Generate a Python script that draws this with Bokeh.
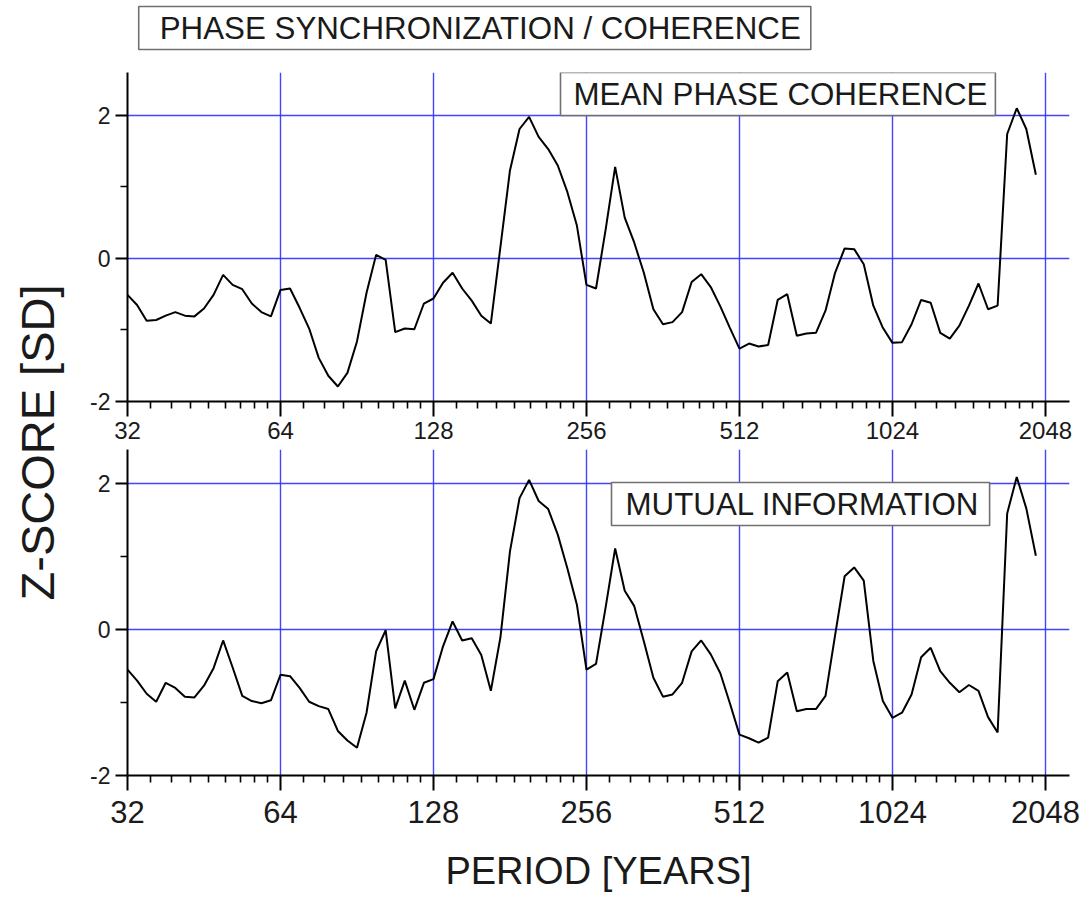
import math

from bokeh.embed import file_html
from bokeh.layouts import column, row
from bokeh.models import BasicTickFormatter, FixedTicker, Label, NumeralTickFormatter, Range1d
from bokeh.plotting import figure
from bokeh.resources import INLINE

# Sampling grid: 16 periods per octave, 32 .. ~1961 years
period_years = [
    32.0, 33.42, 34.9, 36.44, 38.05, 39.74, 41.5, 43.34, 45.25, 47.26, 49.35, 51.53, 53.82, 56.2, 58.69, 61.29,
    64.0, 66.83, 69.79, 72.88, 76.11, 79.48, 83.0, 86.67, 90.51, 94.52, 98.7, 103.07, 107.63, 112.4, 117.38, 122.57,
    128.0, 133.67, 139.58, 145.76, 152.22, 158.96, 165.99, 173.34, 181.02, 189.03, 197.4, 206.14, 215.27, 224.8, 234.75, 245.14,
    256.0, 267.33, 279.17, 291.53, 304.44, 317.92, 331.99, 346.68, 362.04, 378.07, 394.8, 412.28, 430.53, 449.59, 469.5, 490.28,
    512.0, 534.67, 558.34, 583.06, 608.87, 635.83, 663.98, 693.37, 724.08, 756.13, 789.61, 824.56, 861.07, 899.19, 939.0, 980.57,
    1024.0, 1069.33, 1116.68, 1166.12, 1217.75, 1271.66, 1327.96, 1386.75, 1448.15, 1512.26, 1579.21, 1649.13, 1722.14, 1798.38, 1877.99, 1961.13,
]

mean_phase_coherence = [
    -0.51, -0.65, -0.87, -0.86, -0.80, -0.75, -0.80, -0.81, -0.70, -0.51, -0.23, -0.37, -0.43, -0.63, -0.75, -0.81,
    -0.44, -0.42, -0.69, -0.98, -1.39, -1.64, -1.79, -1.60, -1.16, -0.48, 0.05, -0.02, -1.03, -0.98, -0.99, -0.63,
    -0.56, -0.34, -0.20, -0.42, -0.59, -0.80, -0.91, 0.16, 1.23, 1.81, 1.98, 1.70, 1.53, 1.30, 0.93, 0.46,
    -0.37, -0.42, 0.40, 1.28, 0.57, 0.22, -0.20, -0.71, -0.92, -0.89, -0.75, -0.33, -0.22, -0.40, -0.67, -0.97,
    -1.26, -1.19, -1.23, -1.21, -0.58, -0.50, -1.08, -1.05, -1.04, -0.73, -0.20, 0.14, 0.13, -0.08, -0.66, -0.97,
    -1.18, -1.17, -0.92, -0.58, -0.62, -1.04, -1.12, -0.94, -0.66, -0.35, -0.71, -0.66, 1.74, 2.10, 1.81, 1.17,
]

mutual_information = [
    -0.55, -0.70, -0.88, -0.99, -0.73, -0.80, -0.92, -0.93, -0.77, -0.53, -0.15, -0.52, -0.91, -0.98, -1.01, -0.97,
    -0.62, -0.64, -0.80, -0.99, -1.05, -1.09, -1.39, -1.52, -1.62, -1.14, -0.30, -0.01, -1.08, -0.70, -1.10, -0.73,
    -0.68, -0.23, 0.11, -0.15, -0.12, -0.35, -0.84, -0.11, 1.07, 1.80, 2.05, 1.76, 1.65, 1.30, 0.84, 0.34,
    -0.55, -0.47, 0.30, 1.11, 0.53, 0.32, -0.16, -0.66, -0.92, -0.89, -0.73, -0.30, -0.15, -0.34, -0.60, -1.01,
    -1.44, -1.49, -1.55, -1.48, -0.71, -0.59, -1.12, -1.09, -1.09, -0.91, -0.08, 0.73, 0.85, 0.67, -0.43, -0.98,
    -1.21, -1.14, -0.89, -0.38, -0.25, -0.57, -0.73, -0.86, -0.76, -0.84, -1.20, -1.41, 1.59, 2.09, 1.66, 1.01,
]

period_ticks = [32, 64, 128, 256, 512, 1024, 2048]
z_ticks = [-2, 0, 2]
z_tick_labels = ["-2", "0", "2"]
z_minor_ticks = [-1, 1]

FONT = "Liberation Sans"
INK = "#1a1a1a"
GRID_BLUE = "#3030ff"
SIDE_W = 80          # strip holding the shared vertical title
PANEL_W = 1088 - SIDE_W
BOX_FONT = "31.3px"

# eight linear minor ticks inside every octave
period_minor_ticks = [b * (1 + j / 9) for b in period_ticks[:-1] for j in range(1, 9)]


def boxed(x, y, text, pad_left, pad_right, units="screen"):
    return Label(
        x=x, y=y, x_units=units, y_units=units, text=text,
        text_font=FONT, text_font_size=BOX_FONT, text_color=INK,
        text_align="left", text_baseline="middle",
        background_fill_color="white", border_line_color="#707070", border_line_width=1.6,
        padding=dict(left=pad_left, right=pad_right, top=4, bottom=4),
    )


def blank(width, height):
    f = figure(
        width=width, height=height, x_range=Range1d(0, width), y_range=Range1d(0, height),
        min_border=0, toolbar_location=None, output_backend="svg",
        background_fill_color="white", border_fill_color="white",
    )
    f.axis.visible = False
    f.grid.visible = False
    f.outline_line_color = None
    return f


def panel(height, border_top, border_bottom, y_top, series, tick_font_size, tick_standoff):
    p = figure(
        width=PANEL_W, height=height, x_axis_type="log",
        x_range=Range1d(32, 2284), y_range=Range1d(-2, y_top),
        min_border_left=127 - SIDE_W, min_border_right=19,
        min_border_top=border_top, min_border_bottom=border_bottom,
        toolbar_location=None, output_backend="svg",
        background_fill_color="white", border_fill_color="white",
    )
    p.outline_line_color = None

    xt = FixedTicker(ticks=period_ticks, minor_ticks=period_minor_ticks)
    yt = FixedTicker(ticks=z_ticks, minor_ticks=z_minor_ticks)
    p.xaxis.ticker = xt
    p.yaxis.ticker = yt
    p.xgrid.ticker = xt
    p.ygrid.ticker = yt
    p.xaxis.formatter = NumeralTickFormatter(format="0")
    p.yaxis.formatter = BasicTickFormatter()
    p.yaxis.major_label_overrides = dict(zip(z_ticks, z_tick_labels))

    for g in (p.xgrid, p.ygrid):
        g.grid_line_color = GRID_BLUE
        g.grid_line_width = 1.4
        g.grid_line_alpha = 0.9

    for ax in (p.xaxis, p.yaxis):
        ax.axis_line_color = "black"
        ax.axis_line_width = 2
        ax.major_tick_line_color = "black"
        ax.major_tick_line_width = 2
        ax.minor_tick_line_color = "black"
        ax.minor_tick_line_width = 1.6
        ax.major_tick_in = 0
        ax.minor_tick_in = 0
        ax.major_label_text_font = FONT
        ax.major_label_text_color = INK

    p.xaxis.major_tick_out = 15
    p.xaxis.minor_tick_out = 7
    p.xaxis.major_label_text_font_size = tick_font_size
    p.xaxis.major_label_standoff = tick_standoff

    p.yaxis.major_tick_out = 12
    p.yaxis.minor_tick_out = 7
    p.yaxis.major_label_text_font_size = "23px"
    p.yaxis.major_label_standoff = 5

    p.line(period_years, series, line_color="black", line_width=2)
    return p


# heading strip above the first panel
TITLE_H = 62
head = blank(PANEL_W, TITLE_H)
head.add_layout(boxed(12, TITLE_H - 27.5, "PHASE SYNCHRONIZATION / COHERENCE", 21, 10, units="data"))

top = panel(449 - TITLE_H, 72 - TITLE_H, 48, 2.6, mean_phase_coherence, "24px", 5)
top.add_layout(boxed(433, 307.5, "MEAN PHASE COHERENCE", 13, 8))

bottom = panel(452, 0, 126, 2.466, mutual_information, "31px", 10)
bottom.xaxis.axis_label = "PERIOD [YEARS]"
bottom.xaxis.axis_label_text_font = FONT
bottom.xaxis.axis_label_text_font_size = "38px"
bottom.xaxis.axis_label_text_font_style = "normal"
bottom.xaxis.axis_label_text_color = INK
bottom.xaxis.axis_label_standoff = 24
bottom.add_layout(boxed(484, 271.5, "MUTUAL INFORMATION", 14, 10))

# shared vertical title, spanning both panels
side = blank(SIDE_W, 901)
side.add_layout(Label(
    x=37, y=901 - 442, text="Z-SCORE [SD]", angle=math.pi / 2,
    text_align="center", text_baseline="middle",
    text_font=FONT, text_font_size="47px", text_color=INK,
))

layout = row(side, column(head, top, bottom))
open("out.html", "w").write(file_html(layout, INLINE))
